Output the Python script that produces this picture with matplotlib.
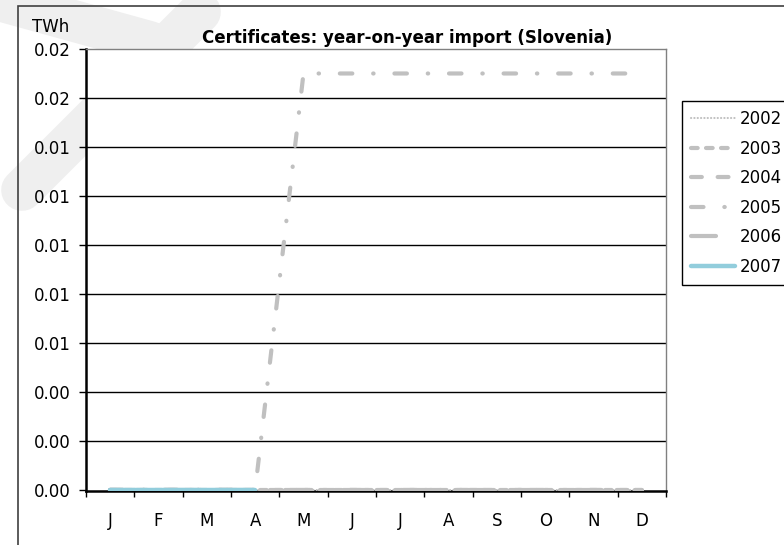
import matplotlib.pyplot as plt
import numpy as np
from matplotlib.lines import Line2D
from matplotlib.patches import Rectangle
from matplotlib.ticker import FormatStrFormatter

plt.rcParams['font.family'] = ['DejaVu Sans']

# datos
meses = ['J', 'F', 'M', 'A', 'M', 'J', 'J', 'A', 'S', 'O', 'N', 'D']
y2002 = [0, 0, 0, 0, 0, 0, 0, 0, 0, 0, 0, 0]
y2003 = [0, 0, 0, 0, 0, 0, 0, 0, 0, 0, 0, 0]
y2004 = [0, 0, 0, 0, 0, 0, 0, 0, 0, 0, 0, 0]
y2005 = [0, 0, 0, 0, 0.017, 0.017, 0.017, 0.017, 0.017, 0.017, 0.017, 0.017]
y2006 = [0, 0, 0, 0, 0, 0, 0, 0, 0, 0, 0, 0]
y2007 = [0, 0, 0, 0]

W, H = 784, 545
fig = plt.figure(figsize=(W / 100, H / 100), dpi=100)

# marca de agua (bandas grises muy claras)
def px(x, y):
    return x / W, 1 - y / H

for (x0, y0), (x1, y1) in [((-20, -5), (150, 42)), ((200, 12), (22, 190))]:
    a, b = px(x0, y0)
    c, d = px(x1, y1)
    fig.add_artist(Line2D([a, c], [b, d], lw=30, color='#efefef',
                          solid_capstyle='round', zorder=-5))

# borde exterior
fig.add_artist(Rectangle(px(17.5, 560), (W + 20) / W, (560 - 6) / H,
                         transform=fig.transFigure, fill=False,
                         edgecolor='#404040', lw=1.2, zorder=-4))

ax = fig.add_axes([86 / W, 1 - 491 / H, 580 / W, 442 / H])

gris = '#c0c0c0'
x = np.arange(len(meses))
ax.plot(x, y2002, color=gris, lw=1.5, dashes=(0.1, 1.5), dash_capstyle='round', label='2002', zorder=3)
ax.plot(x, y2003, color=gris, lw=3, dashes=(1.6, 2.0), dash_capstyle='round', label='2003', zorder=3)
ax.plot(x, y2004, color=gris, lw=3, dashes=(2.6, 3.8), dash_capstyle='round', label='2004', zorder=3)
ax.plot(x, y2005, color=gris, lw=3, dashes=(3, 5, 0.1, 5), dash_capstyle='round', label='2005', zorder=3)
ax.plot(x, y2006, color=gris, lw=3, dashes=(6, 8), dash_capstyle='round', label='2006', zorder=3)
ax.plot(x[:len(y2007)], y2007, color='#92cddc', lw=3.2, solid_capstyle='round', label='2007', zorder=3)

ax.set_xlim(-0.5, 11.5)
ax.set_ylim(-0.00005, 0.018)
yt = np.arange(0, 0.0181, 0.002)
ax.set_yticks(yt)
ax.yaxis.set_major_formatter(FormatStrFormatter('%.2f'))
for v in yt[1:-1]:
    ax.axhline(v, color='black', lw=1, zorder=1)

ax.set_xticks(np.arange(-0.5, 12, 1))
ax.set_xticklabels([])
ax.set_xticks(x, minor=True)
ax.set_xticklabels(meses, minor=True)
ax.tick_params(axis='x', which='major', direction='out', length=4, width=1, color='black')
ax.tick_params(axis='x', which='minor', length=0, pad=15, labelsize=12)
ax.tick_params(axis='y', direction='out', length=5, width=1, pad=6, labelsize=12)

for s in ['top', 'right']:
    ax.spines[s].set_color('#808080')
    ax.spines[s].set_linewidth(1)
for s in ['left', 'bottom']:
    ax.spines[s].set_color('black')
    ax.spines[s].set_linewidth(1.8)

fig.text(32 / W, 1 - 32 / H, 'TWh', fontsize=12, ha='left', va='baseline')
fig.text(407 / W, 1 - 43 / H, 'Certificates: year-on-year import (Slovenia)',
         fontsize=12, fontweight='bold', ha='center', va='baseline')

leg = fig.legend(loc='upper left', bbox_to_anchor=px(682, 101), fontsize=12,
                 frameon=True, fancybox=False, framealpha=1, edgecolor='black',
                 handlelength=2.6, handletextpad=0.3, labelspacing=0.69,
                 borderpad=0.55, borderaxespad=0)
leg.get_frame().set_linewidth(1)

fig.savefig('out.png', dpi=100)
